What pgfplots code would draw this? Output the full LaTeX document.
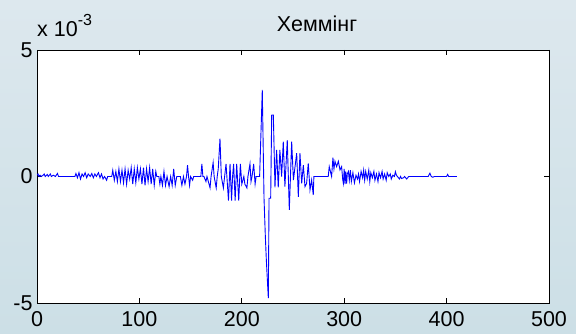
\documentclass[border=0pt]{standalone}
\usepackage{fontspec}
\setmainfont{Liberation Sans}
\usepackage{pgfplots}
\pgfplotsset{compat=1.18}
\definecolor{bgtop}{RGB}{221,232,238}
\definecolor{bgbot}{RGB}{204,223,230}
\newcommand{\lbl}{\fontsize{21.5}{24}\selectfont}
\begin{document}
\begin{tikzpicture}[x=1pt,y=1pt]
\path[use as bounding box] (0,0) rectangle (576,334);
\shade[top color=bgtop, bottom color=bgbot] (0,0) rectangle (576,334);
\begin{axis}[
  at={(37pt,31pt)}, anchor=south west,
  scale only axis, width=512pt, height=253pt,
  xmin=0, xmax=500, ymin=-5, ymax=5,
  axis background/.style={fill=white},
  axis line style={black, line width=0.8pt},
  xtick={0,100,200,300,400,500},
  xticklabels={0,100,200,300,400,500},
  ytick={-5,0,5},
  yticklabels={-5,0,5},
  tick align=inside, tick pos=both,
  major tick length=5pt,
  tick style={black, line width=0.8pt},
  tick label style={font=\lbl},
  xticklabel style={yshift=-5pt},
  yticklabel style={xshift=-1pt},
]
\addplot[blue, line width=0.9pt] coordinates {
(0,0.05) (1,0.1) (2,0.0) (3,0.05) (4,0.0) (6,0.05) (7,0.1) (8,0.0) (10,0.08) (11,0.0)
(13,0.1) (14,0.0) (16,0.05) (18,0.0) (20,0.12) (21,0.0) (22,0.0) (37,0.0)
(38,0.12) (39.5,-0.05) (41,0.15) (42.5,-0.1) (44,0.1) (45.5,0.0) (47,0.15) (48.5,-0.05)
(50,0.1) (52,0.0) (53.5,0.12) (55,-0.05) (56.5,0.1) (58,0.0) (60,0.15) (61.5,-0.05)
(63,0.1) (64.5,-0.1) (66,0.0) (68,-0.15) (69,0.0) (73,0.0)
(74,0.25) (75.5,-0.15) (77,0.2) (78.5,-0.2) (80,0.3) (81.5,-0.2) (83,0.25) (84.5,-0.25)
(86,0.3) (87.5,-0.3) (89,0.25) (90.5,-0.1) (92,0.35) (93.5,-0.3) (95,0.3) (96.5,-0.25)
(98,0.35) (99.5,-0.1) (101,0.3) (102.5,-0.3) (104,0.35) (105.5,-0.35) (107,0.3)
(108.5,-0.2) (110,0.35) (111.5,-0.3) (113,0.3) (114.5,-0.35) (116,0.2) (117,0.0)
(119,0.0) (120,-0.3) (121,0.0) (122.5,-0.35) (124,0.2) (125.5,-0.35) (127,0.0)
(129,-0.4) (130.5,0.0) (132,-0.35) (133.5,0.3) (135,-0.35) (136.5,0.0) (140,0.0)
(141.5,-0.35) (143,0.0) (144.5,-0.3) (146,0.0) (147,0.45) (148,0.0) (149,-0.35) (150,0.0)
(152,-0.15) (153,0.0) (160,0.0) (161,0.5) (162,0.0) (163,0.0) (165,-0.2) (166,0.0)
(169,-0.45) (170,0.0) (172,0.55) (173,0.0) (175,-0.45) (176,0.0) (177,0.3) (178.7,1.5)
(180,0.0) (182,-0.45) (184.6,0.5) (187,-0.95) (188.5,0.5) (190,-0.95) (191,0.0) (192,0.5)
(193.5,-0.95) (195,0.5) (197,-0.95) (198.6,0.5) (200,-0.3) (202,0.0) (203,-0.3)
(205,-0.45) (206,0.0) (208,0.5) (209,-0.2) (210,0.0) (211.6,0.5) (213,-0.3) (214,0.0)
(217.4,0.0) (220,3.42) (221.7,-0.86) (223,-2.38) (224,-3.33) (225.9,-4.81) (226.6,-0.86)
(228.2,-0.86) (229.2,2.43) (230.8,2.43) (232.4,-0.43) (234,1.05) (235.6,-0.43)
(237.2,1.05) (238.9,0.0) (240.5,1.38) (242.1,-0.4) (244.4,1.44) (246.4,-1.32)
(248.7,1.38) (250.4,-0.14) (252,0.39) (253.6,0.92) (255.2,-0.8) (256.8,0.92)
(258.5,-0.27) (260.1,0.45) (261.7,-0.4) (263.3,-0.27) (264.9,0.52) (266.6,-0.53)
(268.2,-0.14) (269.8,-0.73) (270.4,0) (284.4,0) (285.4,0.39) (287.7,0) (289,0.74)
(290,0.3) (291,0.6) (292.6,0.39) (294.3,0.6) (295.9,0.26) (297.5,0.39) (298.5,-0.1)
(299.2,-0.27) (300,0.3) (300.8,-0.3) (301.5,0.2) (302.4,-0.28) (303,0.1) (304.1,0.2)
(305,-0.15) (306,0.25) (307,-0.2) (308.5,0.15) (310,-0.25) (311.5,0.05) (313,-0.1)
(314,0.1) (315,-0.2) (316.5,0.2) (318,-0.05) (319,0.25) (320,-0.15) (321,0.2)
(322.5,-0.1) (324,0.25) (325,-0.2) (326,0.15) (327.5,-0.05) (329,0.2) (330,-0.15)
(331.5,0.1) (333,-0.2) (334,0.15) (335.5,-0.05) (337,0.2) (338,-0.1) (339.5,0.1)
(341,-0.15) (342,0.15) (343.5,0.0) (345,0.1) (346,-0.1) (347.5,0.05) (349,0.0)
(350,0.19) (351,0.05) (352,0.0) (354,-0.1) (355,0.0) (356,-0.08) (358,-0.05) (359,0.0)
(361,-0.1) (363,0.0) (382,0.0) (383.7,0.13) (385,0.0) (386.5,-0.03) (388,0.0)
(400,0.0) (401,0.08) (402,0.0) (410,0.0)
};
\end{axis}
\node[anchor=base, font=\lbl] at (317,302) {Хеммінг};
\node[anchor=base west, inner sep=0pt, font=\lbl] at (37,297) {x 10\raisebox{0.55em}{\fontsize{16}{16}\selectfont -3}};
\end{tikzpicture}
\end{document}
